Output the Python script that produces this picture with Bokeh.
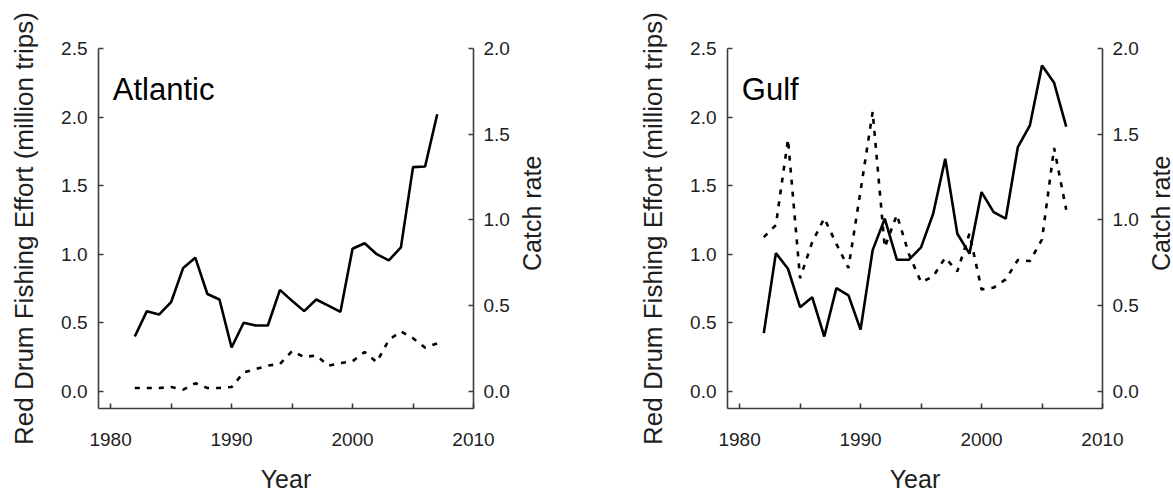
import math
from bokeh.plotting import figure
from bokeh.models import Range1d, LinearAxis, FixedTicker, Label, NumeralTickFormatter
from bokeh.core.properties import value
from bokeh.layouts import row
from bokeh.embed import file_html
from bokeh.resources import INLINE

# ---------------- data ----------------
years = list(range(1982, 2008))
atlantic_effort = [0.40, 0.585, 0.56, 0.65, 0.90, 0.975, 0.71, 0.67, 0.32, 0.50,
                   0.48, 0.48, 0.74, 0.66, 0.585, 0.67, 0.625, 0.58, 1.04, 1.08,
                   1.00, 0.955, 1.05, 1.635, 1.64, 2.02]
atlantic_catch = [0.02, 0.02, 0.02, 0.025, 0.01, 0.047, 0.02, 0.02, 0.025, 0.11,
                  0.13, 0.15, 0.16, 0.235, 0.20, 0.21, 0.15, 0.165, 0.175, 0.23,
                  0.17, 0.30, 0.35, 0.31, 0.255, 0.28]
gulf_effort = [0.425, 1.008, 0.894, 0.614, 0.687, 0.40, 0.753, 0.70, 0.45, 1.03,
               1.259, 0.96, 0.96, 1.05, 1.295, 1.696, 1.149, 1.004, 1.453, 1.307,
               1.259, 1.78, 1.94, 2.376, 2.25, 1.93]
gulf_catch = [0.90, 0.97, 1.47, 0.66, 0.87, 1.01, 0.86, 0.72, 1.17, 1.63,
              0.84, 1.03, 0.80, 0.637, 0.67, 0.78, 0.70, 0.92, 0.595, 0.605,
              0.653, 0.766, 0.76, 0.886, 1.42, 1.06]
panel_titles = ["Atlantic", "Gulf"]
x_ticks = [1980, 1990, 2000, 2010]
x_minor_ticks = [1985, 1995, 2005]
effort_ticks = [0.0, 0.5, 1.0, 1.5, 2.0, 2.5]
catch_ticks = [0.0, 0.5, 1.0, 1.5, 2.0]
y_label = "Red Drum Fishing Effort (million trips)"
y2_label = "Catch rate"
x_label = "Year"

FONT = "Liberation Sans"
AXIS_COLOR = "#3c3c3c"
TEXT_COLOR = "#1e1e1e"

TOP, FRAME_H, BOTTOM = 48, 360, 90
FIG_H = TOP + FRAME_H + BOTTOM


def style_axis(ax):
    ax.axis_line_color = AXIS_COLOR
    ax.axis_line_width = 1.6
    ax.major_tick_line_color = AXIS_COLOR
    ax.major_tick_line_width = 1.6
    ax.minor_tick_line_color = AXIS_COLOR
    ax.minor_tick_line_width = 1.6
    ax.major_tick_in = 5
    ax.major_tick_out = 0
    ax.minor_tick_in = 0
    ax.minor_tick_out = 0
    ax.major_label_text_font = FONT
    ax.major_label_text_font_size = "19px"
    ax.major_label_text_color = TEXT_COLOR
    ax.axis_label_text_font = FONT
    ax.axis_label_text_font_style = "normal"
    ax.axis_label_text_color = TEXT_COLOR


def make_panel(title, effort, catch, border_left):
    p = figure(frame_width=375, frame_height=FRAME_H,
               x_range=Range1d(1979, 2010), y_range=Range1d(-0.125, 2.5),
               output_backend="svg", toolbar_location=None,
               min_border_left=border_left, min_border_right=44,
               min_border_top=TOP, min_border_bottom=BOTTOM)
    p.extra_y_ranges = {"catch": Range1d(-0.1, 2.0)}
    p.outline_line_color = None
    p.xgrid.visible = False
    p.ygrid.visible = False
    p.background_fill_color = "white"
    p.border_fill_color = "white"

    p.line(years, effort, line_color="black", line_width=2.6)
    p.line(years, catch, y_range_name="catch", line_color="black",
           line_width=2.6, line_dash="5 7")

    xa = p.xaxis[0]
    style_axis(xa)
    xa.ticker = FixedTicker(ticks=x_ticks, minor_ticks=x_minor_ticks)
    xa.formatter = NumeralTickFormatter(format="0")
    xa.minor_tick_in = 5
    xa.major_label_standoff = 24
    xa.axis_label = x_label
    xa.axis_label_text_font_size = "25px"
    xa.axis_label_standoff = 16

    ya = p.yaxis[0]
    style_axis(ya)
    ya.ticker = FixedTicker(ticks=effort_ticks)
    ya.formatter = NumeralTickFormatter(format="0.0")
    ya.major_label_standoff = 11
    ya.axis_label = y_label
    ya.axis_label_text_font_size = "26px"
    ya.axis_label_standoff = 19

    ra = LinearAxis(y_range_name="catch", ticker=FixedTicker(ticks=catch_ticks),
                    formatter=NumeralTickFormatter(format="0.0"))
    style_axis(ra)
    ra.major_label_standoff = 10
    p.add_layout(ra, "right")

    p.add_layout(Label(x=1980.18, y=2.202, text=title,
                       text_align="left", text_baseline="alphabetic",
                       text_font=FONT, text_font_size="31px",
                       text_color="black"))
    return p


def make_side_label(width, cx):
    # narrow text-only strip holding the right-hand axis title
    t = figure(width=width, height=FIG_H, x_range=Range1d(0, width),
               y_range=Range1d(0, FIG_H), output_backend="svg",
               toolbar_location=None, x_axis_type=None, y_axis_type=None,
               min_border=0)
    t.outline_line_color = None
    t.xgrid.visible = False
    t.ygrid.visible = False
    t.background_fill_color = "white"
    t.border_fill_color = "white"
    t.text(x=[cx], y=[FIG_H - (TOP + FRAME_H / 2)], text=[y2_label],
           angle=math.pi / 2, text_align="center", text_baseline="middle",
           text_font=value(FONT), text_font_size=value("25px"),
           text_color=TEXT_COLOR)
    return t


p1 = make_panel(panel_titles[0], atlantic_effort, atlantic_catch, 98)
t1 = make_side_label(118, 14)
p2 = make_panel(panel_titles[1], gulf_effort, gulf_catch, 90)
t2 = make_side_label(29, 14.5)
layout = row(p1, t1, p2, t2)

open("out.html", "w").write(file_html(layout, INLINE))
